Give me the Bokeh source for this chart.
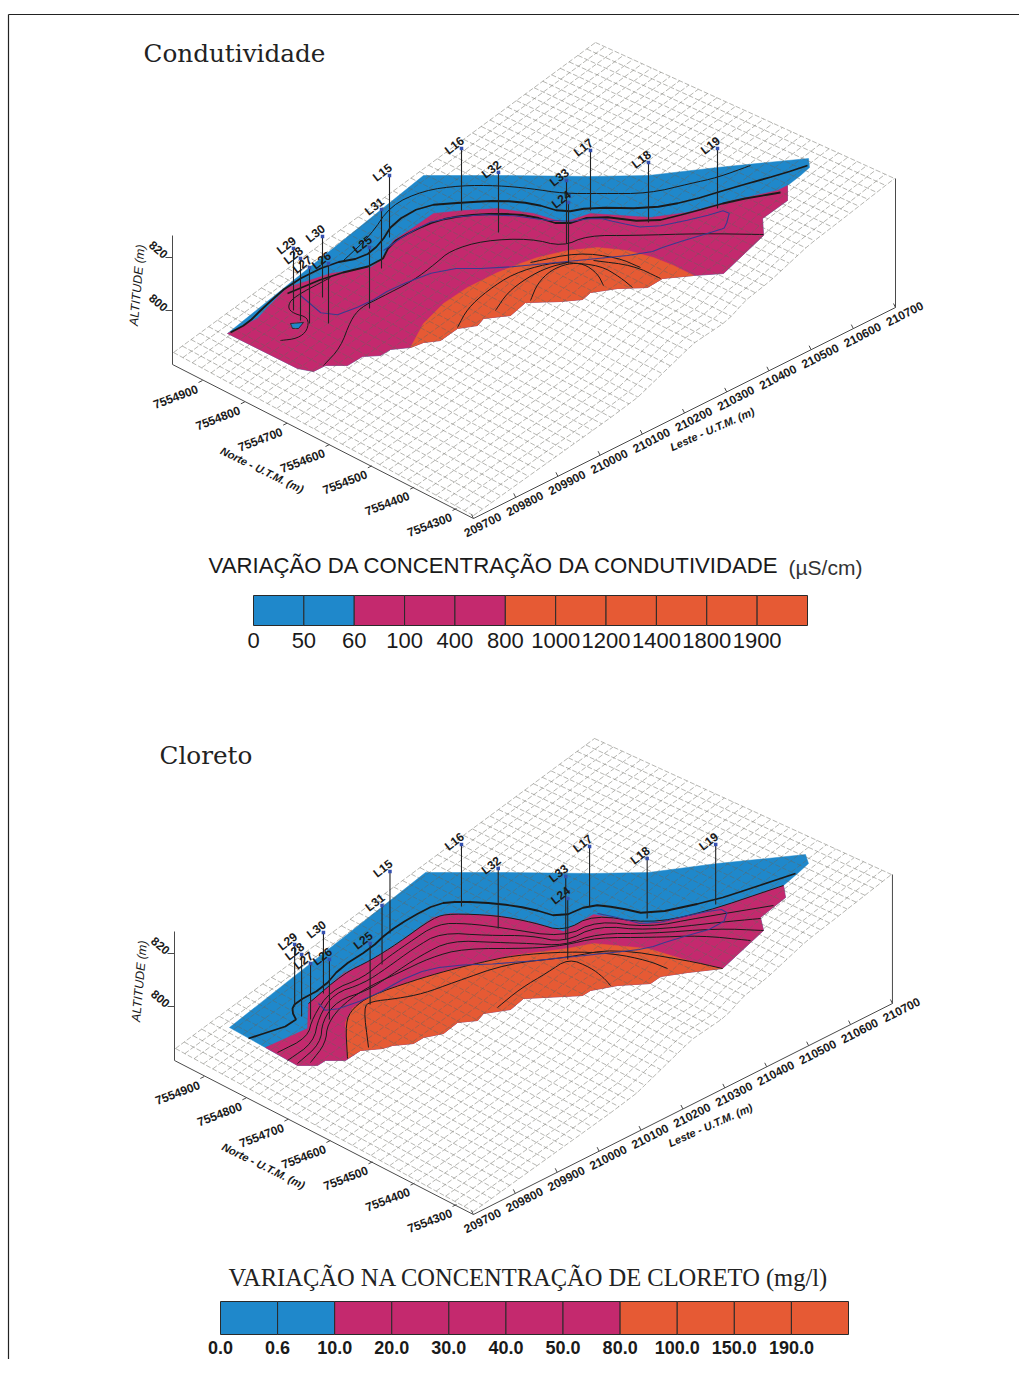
from bokeh.plotting import figure
from bokeh.embed import file_html
from bokeh.resources import INLINE
from bokeh.core.properties import value
import numpy as np

BLUE, PINK, ORANGE = "#1f88cb", "#c4296e", "#e65a34"
INK = "#1a1a1a"

# ---- frame of the block diagram (top panel, page pixels)
corner_left = (172, 364); corner_front = (473, 518); corner_right = (895, 307)
z_top_left = 235; z_top_right = 178
mesh_left = (173, 352); mesh_back = (595, 42)
mesh_front_edge = [(473, 515), (543, 465), (613, 415), (637, 397), (693, 343), (727, 320),
                   (745, 300), (769, 281), (809, 244), (835, 224), (894, 178)]
n_leste_lines, n_norte_lines = 48, 32

norte_ticks = [7554900, 7554800, 7554700, 7554600, 7554500, 7554400, 7554300]
leste_ticks = [209700, 209800, 209900, 210000, 210100, 210200, 210300, 210400, 210500, 210600, 210700]
alt_ticks = [820, 800]
alt_tick_y = [257, 310]

# ---- wells: name, x, top, bottom
wells = [("L29", 293, 248, 310), ("L28", 300, 258, 320), ("L27", 309, 267, 323), ("L30", 322, 236, 297),
         ("L26", 328, 263, 323), ("L25", 369, 247, 308), ("L31", 381, 209, 268), ("L15", 389, 175, 237),
         ("L16", 461, 148, 210), ("L32", 498, 172, 232), ("L33", 566, 180, 243), ("L24", 568, 202, 263),
         ("L17", 590, 150, 210), ("L18", 648, 162, 222), ("L19", 717, 148, 208)]

# ---- Condutividade (page pixels)
c_bottom = [(787, 185), (787, 200), (762, 218), (763, 235), (723, 273), (693, 275), (662, 278), (647, 287), (617, 288),
            (590, 292), (582, 299), (560, 301), (525, 302), (510, 315), (483, 318), (477, 325), (457, 328), (440, 340),
            (423, 342), (410, 347), (390, 349), (380, 355), (362, 356), (347, 365), (325, 365), (313, 371), (297, 368)]
c_outline = [(227, 333), (423, 175), (500, 175), (590, 176), (648, 175), (717, 167), (767, 162), (808, 158),
             (809, 167), (800, 175)] + c_bottom
c_pink = [(227, 333), (257, 318), (267, 307), (287, 287), (330, 273), (370, 267), (380, 260), (393, 240),
          (413, 227), (433, 213), (463, 210), (497, 208), (533, 213), (563, 222), (590, 213), (650, 217),
          (687, 212), (733, 200), (777, 190)] + c_bottom
c_orange = [(410, 347), (423, 323), (443, 303), (467, 287), (497, 272), (520, 263), (537, 257), (567, 250),
            (597, 247), (627, 250), (653, 257), (673, 265), (693, 275), (662, 278), (647, 287), (617, 288),
            (590, 292), (582, 299), (560, 301), (525, 302), (510, 315), (483, 318), (477, 325), (457, 328),
            (440, 340), (423, 342)]
c_patch = [(290, 323), (303, 322), (298, 328), (292, 328)]
c_contours = [
    [(343, 260), (370, 235), (390, 205), (423, 190), (460, 185), (497, 185), (530, 188), (563, 193), (600, 193), (648, 193), (690, 183), (717, 177), (750, 165)],
    [(323, 365), (340, 347), (350, 320), (360, 307), (380, 297), (413, 280), (435, 263), (450, 250), (483, 240), (530, 238), (562, 246), (587, 235), (633, 235), (700, 233), (763, 234)],
    [(280, 340), (297, 338), (307, 330), (308, 317), (293, 313), (287, 307), (292, 297), (330, 277)],
    [(457, 327), (467, 308), (487, 290), (513, 273), (547, 263), (568, 262)],
    [(495, 310), (507, 292), (527, 277), (547, 267), (567, 262)],
    [(530, 300), (537, 283), (550, 270), (567, 263), (583, 263), (597, 273), (603, 285)],
    [(567, 262), (600, 265), (620, 277), (632, 287)],
    [(593, 260), (633, 265), (660, 278)],
    [(530, 262), (577, 252), (617, 257), (640, 267)],
]
c_thick = [
    [(230, 332), (247, 323), (263, 307), (290, 283), (330, 263), (363, 257), (380, 243), (393, 222), (423, 205), (463, 202), (500, 200), (533, 203), (563, 212), (590, 207), (648, 208), (687, 201), (733, 187), (783, 173), (807, 165)],
    [(287, 293), (330, 275), (380, 263), (390, 243), (413, 230), (437, 220), (463, 215), (497, 213), (530, 215), (563, 225), (593, 215), (650, 222), (690, 212), (733, 200), (780, 192)],
]
c_path = [(300, 295), (327, 318), (367, 303), (393, 287), (443, 268), (493, 268), (567, 261), (647, 253), (667, 245),
          (720, 229), (725, 227), (730, 208), (700, 217), (647, 228), (617, 222), (597, 217), (563, 222), (497, 213),
          (437, 218), (407, 233), (383, 250)]

# ---- Cloreto (page pixels)
k_bottom = [(783, 885), (785, 897), (760, 917), (763, 930), (722, 968), (687, 972), (660, 976), (650, 983), (617, 985),
            (590, 990), (582, 995), (523, 998), (510, 1009), (483, 1013), (477, 1020), (457, 1022), (443, 1033),
            (423, 1037), (413, 1043), (392, 1045), (382, 1048), (360, 1050), (345, 1060), (325, 1060), (317, 1065), (297, 1065)]
k_outline = [(229, 1027), (425, 872), (500, 872), (590, 873), (648, 872), (717, 863), (767, 858), (805, 854),
             (808, 863), (797, 873)] + k_bottom
k_pink = [(265, 1047), (307, 1028), (308, 1003), (343, 973), (370, 960), (397, 943), (433, 917), (450, 913), (497, 915),
          (533, 922), (563, 931), (593, 914), (647, 923), (700, 913)] + k_bottom
k_orange = [(347, 1058), (345, 1022), (352, 1008), (370, 995), (413, 980), (447, 970), (480, 962), (513, 955), (567, 948),
            (593, 943), (647, 948), (687, 960), (722, 968), (687, 972), (660, 976), (650, 983), (617, 985),
            (590, 990), (582, 995), (523, 998), (510, 1009), (483, 1013), (477, 1020), (457, 1022), (443, 1033),
            (423, 1037), (413, 1043), (392, 1045), (382, 1048), (360, 1050)]
k_thick = [
    [(248, 1038), (297, 1022), (291, 1010), (295, 1002), (323, 987), (340, 967), (370, 948), (387, 932), (410, 917), (437, 903), (460, 901), (497, 903), (530, 908), (560, 917), (590, 904), (617, 907), (648, 914), (713, 900), (750, 888), (795, 873)],
]
k_contours = [
    [(308, 1003), (343, 973), (370, 960), (397, 943), (433, 917), (450, 913), (497, 915), (533, 922), (563, 931), (593, 914), (647, 923), (700, 913), (783, 885)],
    [(277, 1052), (307, 1037), (312, 1017), (330, 990), (363, 977), (383, 960), (407, 943), (437, 923), (467, 923), (500, 927), (563, 937), (597, 920), (647, 927), (700, 917), (773, 905)],
    [(287, 1060), (313, 1042), (318, 1017), (333, 993), (363, 983), (387, 967), (413, 948), (440, 932), (487, 935), (530, 935), (563, 942), (597, 925), (647, 930), (717, 922), (760, 918)],
    [(297, 1063), (320, 1043), (322, 1020), (337, 1000), (367, 990), (390, 975), (420, 955), (450, 940), (497, 942), (530, 943), (563, 945), (597, 933), (650, 933), (717, 928), (763, 930)],
    [(310, 1062), (325, 1043), (327, 1023), (343, 1003), (370, 985), (397, 973), (430, 957), (463, 948), (530, 948), (563, 945), (597, 937), (650, 937), (700, 935), (750, 940)],
    [(347, 1058), (345, 1022), (352, 1008), (370, 995), (413, 980), (447, 970), (480, 962), (513, 955), (567, 951), (613, 953), (647, 960), (667, 968)],
    [(368, 1047), (363, 1007), (370, 1001), (397, 998), (423, 993), (453, 982), (507, 963), (567, 957), (613, 948), (687, 960), (722, 968)],
    [(497, 1007), (520, 988), (547, 972), (568, 958), (590, 967), (603, 977), (610, 985)],
]
k_path = [(318, 1003), (327, 1012), (370, 997), (413, 973), (447, 965), (507, 963), (613, 952), (647, 948), (670, 940),
          (722, 925), (728, 908), (700, 912), (647, 925), (617, 917), (597, 913)]

# ---- legends
cond_levels = ["0", "50", "60", "100", "400", "800", "1000", "1200", "1400", "1800", "1900"]
cond_colors = [BLUE] * 2 + [PINK] * 3 + [ORANGE] * 6
clor_levels = ["0.0", "0.6", "10.0", "20.0", "30.0", "40.0", "50.0", "80.0", "100.0", "150.0", "190.0"]
clor_colors = [BLUE] * 2 + [PINK] * 5 + [ORANGE] * 4

W, H = 1019, 1359
p = figure(width=W, height=H, x_range=(0, W), y_range=(H, 0), output_backend="svg", toolbar_location=None,
           min_border=0, outline_line_color=None, background_fill_color="white", border_fill_color="white")
p.axis.visible = False
p.grid.visible = False


def label(x, y, t, size, font="Liberation Sans", angle=0.0, style="normal", color=INK, align="center"):
    p.text(x=[x], y=[y], text=[t], text_font=value(font), text_font_size=f"{size}px", text_font_style=style,
           angle=[np.deg2rad(angle)], text_align=align, text_baseline="middle", text_color=color)


def xs_ys(pts, tf):
    return [tf(a, b)[0] for a, b in pts], [tf(a, b)[1] for a, b in pts]


def tf1(a, b):
    return a, b


def tf2(a, b):
    return 174 + (a - 172) * 0.993, b + 696


def rounded(pts, rounds=2):
    # corner cutting, to draw the read contour vertices as a curved pen line
    pts = np.asarray(pts, float)
    for _ in range(rounds):
        q = np.empty((2 * (len(pts) - 1), 2))
        q[0::2] = 0.75 * pts[:-1] + 0.25 * pts[1:]
        q[1::2] = 0.25 * pts[:-1] + 0.75 * pts[1:]
        pts = np.vstack([pts[:1], q, pts[-1:]])
    return pts


def panel(tf, layers, thin, thick, path, patches):
    def lerp(a, b, t):
        return (a[0] + (b[0] - a[0]) * t, a[1] + (b[1] - a[1]) * t)

    # colored surface (its outlines are read in page pixels)
    for pts, col in layers:
        x, y = xs_ys(pts, tf1)
        p.patch(x, y, fill_color=col, line_color=col, line_width=0.5)
    for pts in patches:
        x, y = xs_ys(pts, tf1)
        p.patch(x, y, fill_color=BLUE, line_color=INK, line_width=0.8)

    # mesh on the terrain
    ex = np.array([q[0] for q in mesh_front_edge], float)
    ey = np.array([q[1] for q in mesh_front_edge], float)
    d = np.r_[0, np.cumsum(np.hypot(np.diff(ex), np.diff(ey)))]
    d /= d[-1]
    us = np.linspace(0, 1, n_leste_lines + 1)
    vs = np.linspace(0, 1, n_norte_lines + 1)
    A = np.array([lerp(mesh_left, mesh_back, u) for u in us])
    B = np.c_[np.interp(us, d, ex), np.interp(us, d, ey)]
    mx, my = [], []
    for i in range(len(us)):
        pts = [(A[i, 0] + (B[i, 0] - A[i, 0]) * v, A[i, 1] + (B[i, 1] - A[i, 1]) * v) for v in vs]
        x, y = xs_ys(pts, tf); mx.append(x); my.append(y)
    for v in vs:
        pts = [(A[i, 0] + (B[i, 0] - A[i, 0]) * v, A[i, 1] + (B[i, 1] - A[i, 1]) * v) for i in range(len(us))]
        x, y = xs_ys(pts, tf); mx.append(x); my.append(y)
    p.multi_line(mx, my, line_color="#66665c", line_width=0.6, line_dash="5 2", line_alpha=0.8)

    # contours
    for pts in thin:
        q = rounded(pts)
        p.line(q[:, 0], q[:, 1], line_color=INK, line_width=1.0)
    for pts in thick:
        q = rounded(pts, 1)
        p.line(q[:, 0], q[:, 1], line_color=INK, line_width=1.8)
    q = rounded(path, 1)
    p.line(q[:, 0], q[:, 1], line_color="#3a3a90", line_width=1.1)

    # axes of the block
    ax = [[corner_left, corner_front], [corner_front, corner_right],
          [corner_left, (corner_left[0], z_top_left)], [corner_right, (corner_right[0], z_top_right)]]
    for seg in ax:
        x, y = xs_ys(seg, tf)
        p.line(x, y, line_color="#4a4a4a", line_width=1.0)

    # Norte axis ticks
    nf = [(n - norte_ticks[0]) / (norte_ticks[-1] - norte_ticks[0]) for n in norte_ticks]
    for n, f in zip(norte_ticks, nf):
        a = lerp((198, 382), (452, 510), f)
        x, y = xs_ys([a, (a[0] + 4, a[1] - 2)], tf)
        p.line(x, y, line_color="#4a4a4a", line_width=1.0)
        c = tf(a[0] - 23, a[1] + 14)
        label(c[0], c[1], str(n), 12, angle=21, style="bold")
    # Leste axis ticks
    for n in leste_ticks:
        f = (n - leste_ticks[0]) / (leste_ticks[-1] - leste_ticks[0])
        a = lerp(corner_front, corner_right, f)
        x, y = xs_ys([a, (a[0] - 2, a[1] - 4)], tf)
        p.line(x, y, line_color="#4a4a4a", line_width=1.0)
        c = tf(a[0] + 9, a[1] + 6)
        label(c[0], c[1], str(n), 12, angle=27, style="bold")
    # altitude axis
    for n, yy in zip(alt_ticks, alt_tick_y):
        x, y = xs_ys([(165, yy), (172, yy)], tf)
        p.line(x, y, line_color="#4a4a4a", line_width=1.0)
        c = tf(158, yy - 8)
        label(c[0], c[1], str(n), 12, angle=-40, style="bold")
    c = tf(137, 283)
    label(c[0], c[1], "ALTITUDE  (m)", 12.5, angle=85, style="italic")
    c = tf(263, 470)
    label(c[0], c[1], "Norte - U.T.M.  (m)", 11, angle=-26, style="bold italic")
    c = tf(713, 428)
    label(c[0], c[1], "Leste - U.T.M.  (m)", 11, angle=24, style="bold italic")

    # wells
    for name, xx, top, bot in wells:
        x, y = xs_ys([(xx, top), (xx, bot)], tf)
        p.line(x, y, line_color="#222222", line_width=1.1)
        p.scatter([x[0]], [y[0]], marker="square", size=3.5, fill_color="#3450b0", line_color=None)
        label(x[0] - 7, y[0] - 3, name, 12, angle=38, style="bold")


def legend(x0, x1, y0, y1, colors, levels, y_text, size, style):
    n = len(colors)
    edges = np.linspace(x0, x1, n + 1)
    p.quad(left=edges[:-1], right=edges[1:], bottom=[y1] * n, top=[y0] * n, fill_color=colors,
           line_color="#2a2a2a", line_width=1.0)
    for e, t in zip(edges, levels):
        label(e, y_text, t, size, style=style)


# page frame
p.line([8, 8], [1359, 14], line_color="#222222", line_width=1.2)
p.line([8, 1019], [14, 14], line_color="#222222", line_width=1.2)

# top panel
panel(tf1, [(c_outline, BLUE), (c_pink, PINK), (c_orange, ORANGE)], c_contours, c_thick, c_path, [c_patch])
label(143, 53, "Condutividade", 24.7, font="DejaVu Serif", align="left", color="#222222")
label(208, 565, "VARIAÇÃO DA CONCENTRAÇÃO DA CONDUTIVIDADE", 22.2, align="left")
label(788, 567, "(µS/cm)", 21, font="Liberation Sans", align="left", color="#333333")
legend(253, 807, 595, 625, cond_colors, cond_levels, 640, 22, "normal")

# bottom panel
panel(tf2, [(k_outline, BLUE), (k_pink, PINK), (k_orange, ORANGE)], k_contours, k_thick, k_path, [])
label(159, 755, "Cloreto", 24.7, font="DejaVu Serif", align="left", color="#222222")
label(228, 1277, "VARIAÇÃO NA CONCENTRAÇÃO DE CLORETO (mg/l)", 24.5, font="Liberation Serif", align="left", color="#222222")
legend(220, 848, 1301, 1334, clor_colors, clor_levels, 1347, 18, "bold")

open("out.html", "w").write(file_html(p, INLINE))
